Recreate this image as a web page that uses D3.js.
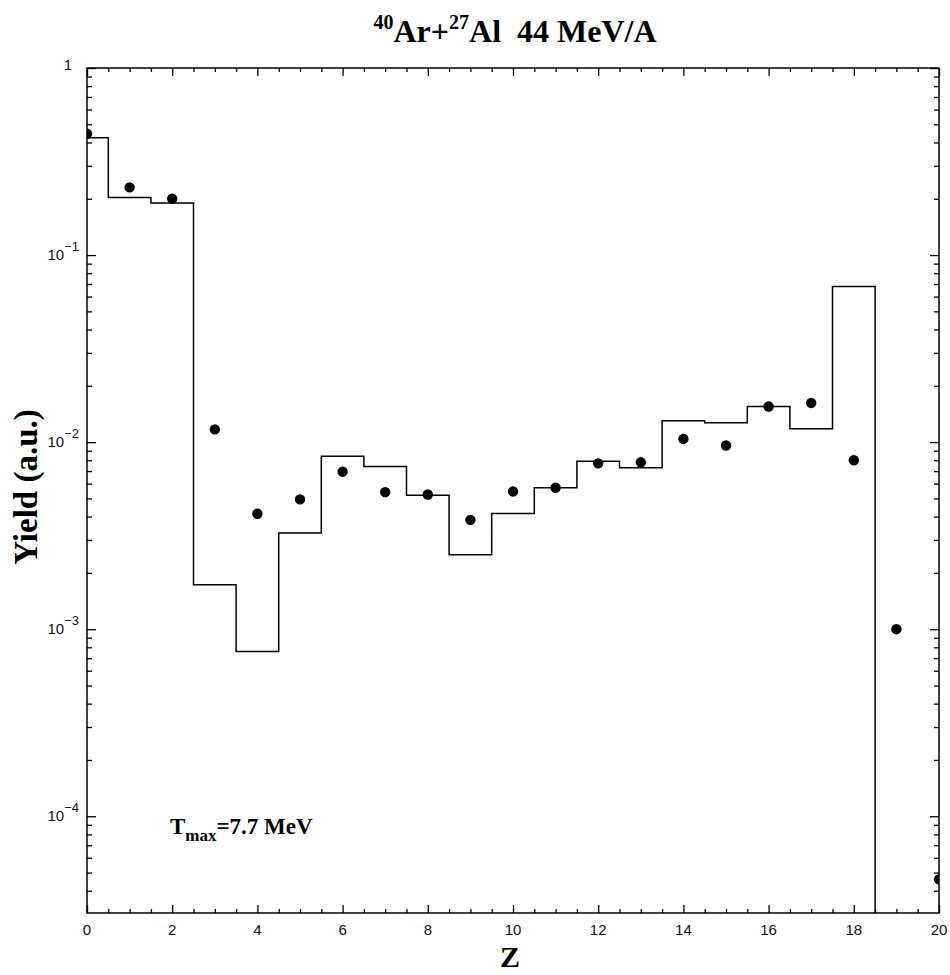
<!DOCTYPE html>
<html><head><meta charset="utf-8">
<script src="https://cdn.jsdelivr.net/npm/d3@7/dist/d3.min.js"></script>
<style>body{margin:0;background:#fff}</style>
</head><body>
<svg id="chart" width="950" height="975"></svg>
<script>
// ---- data ----
const modelZ = [0,1,2,3,4,5,6,7,8,9,10,11,12,13,14,15,16,17,18];
const modelYield = [0.424,0.203,0.19,1.73e-3,7.6e-4,3.27e-3,8.4e-3,7.4e-3,5.2e-3,2.5e-3,4.15e-3,5.7e-3,7.9e-3,7.3e-3,1.3e-2,1.27e-2,1.55e-2,1.18e-2,6.8e-2];
const dataZ = [0,1,2,3,4,5,6,7,8,9,10,11,12,13,14,15,16,17,18,19,20];
const dataYield = [0.445,0.23,0.2,1.17e-2,4.14e-3,4.94e-3,6.95e-3,5.4e-3,5.25e-3,3.84e-3,5.45e-3,5.7e-3,7.7e-3,7.8e-3,1.04e-2,9.6e-3,1.55e-2,1.62e-2,8.0e-3,1.0e-3,4.6e-5];
const xTickValues = [0,2,4,6,8,10,12,14,16,18,20];
const yDecadeValues = [1e-4,1e-3,1e-2,1e-1,1];
const yDecadeBase = ["10","10","10","10","1"];
const yDecadeExp = ["\u22124","\u22123","\u22122","\u22121",""];
const titleParts = ["40","Ar+","27","Al  44 MeV/A"];
const annotationParts = ["T","max","=7.7 MeV"];

// ---- layout ----
const L = 87, R = 939, T = 68, B = 913;
const svg = d3.select("#chart");
const x = d3.scaleLinear().domain([0,20]).range([L,R]);
const y = d3.scaleLog().domain([3.04e-5,1]).range([B,T]);

svg.append("defs").append("clipPath").attr("id","clip")
  .append("rect").attr("x",L).attr("y",T).attr("width",R-L).attr("height",B-T);

const xMinor = d3.range(0,20.01,0.5).filter(v => !xTickValues.includes(v));
const yMinor = [];
[1e-5,1e-4,1e-3,1e-2,1e-1].forEach(d => { for (let k=2;k<=9;k++){ const v=d*k; if (v>=3.04e-5 && v<1) yMinor.push(v);} });

function axisGroup(axis, transform){
  const g = svg.append("g").attr("transform",transform).call(axis);
  g.select(".domain").remove();
  g.selectAll("line").attr("stroke","#000").attr("stroke-width",1.3);
  g.selectAll("text").remove();
  return g;
}
axisGroup(d3.axisBottom(x).tickValues(xTickValues).tickSize(-8), `translate(0,${B})`);
axisGroup(d3.axisBottom(x).tickValues(xMinor).tickSize(-4), `translate(0,${B})`);
axisGroup(d3.axisTop(x).tickValues(xTickValues).tickSize(-8), `translate(0,${T})`);
axisGroup(d3.axisTop(x).tickValues(xMinor).tickSize(-4), `translate(0,${T})`);
axisGroup(d3.axisLeft(y).tickValues(yDecadeValues).tickSize(-9), `translate(${L},0)`);
axisGroup(d3.axisLeft(y).tickValues(yMinor).tickSize(-5), `translate(${L},0)`);
axisGroup(d3.axisRight(y).tickValues(yDecadeValues).tickSize(-9), `translate(${R},0)`);
axisGroup(d3.axisRight(y).tickValues(yMinor).tickSize(-5), `translate(${R},0)`);

svg.append("rect").attr("x",L).attr("y",T).attr("width",R-L).attr("height",B-T)
  .attr("fill","none").attr("stroke","#000").attr("stroke-width",1.5);

// x tick labels
svg.append("g").selectAll("text").data(xTickValues).join("text")
  .attr("x", d => x(d)).attr("y", B+22)
  .attr("text-anchor","middle").attr("font-family","Liberation Sans, Arial, sans-serif")
  .attr("font-size",15).attr("fill","#111").text(d => d);

// y tick labels
const yl = svg.append("g").selectAll("text").data(yDecadeValues).join("text")
  .attr("font-family","Liberation Sans, Arial, sans-serif").attr("font-size",15).attr("fill","#111")
  .attr("text-anchor","end")
  .attr("x", L-8).attr("y", d => y(d)+5);
yl.each(function(d,i){
  const t = d3.select(this);
  if (yDecadeExp[i] === "") { t.attr("x", L-15).attr("y", y(d)+2).text(yDecadeBase[i]); return; }
  t.append("tspan").text(yDecadeBase[i]);
  t.append("tspan").attr("dy",-9).attr("font-size",13).text(yDecadeExp[i]);
});

// histogram (model)
const stepPts = modelZ.map((z,i) => [i===0 ? 0 : z-0.5, modelYield[i]]);
stepPts.push([modelZ[modelZ.length-1]+0.5, y.domain()[0]]);
svg.append("path").attr("clip-path","url(#clip)")
  .attr("d", d3.line().x(d => x(d[0])).y(d => y(d[1])).curve(d3.curveStepAfter)(stepPts))
  .attr("fill","none").attr("stroke","#000").attr("stroke-width",1.5);

// data points
svg.append("g").attr("clip-path","url(#clip)").selectAll("circle").data(dataZ).join("circle")
  .attr("cx", d => x(d)).attr("cy", (d,i) => y(dataYield[i])).attr("r",5.2).attr("fill","#000");

// title
const title = svg.append("text").attr("x",515).attr("y",42).attr("text-anchor","middle")
  .attr("font-family","Liberation Serif, Times New Roman, serif").attr("font-weight","bold")
  .attr("font-size",32).attr("fill","#000").style("white-space","pre");
title.append("tspan").attr("font-size",20).attr("dy",-13).text(titleParts[0]);
title.append("tspan").attr("dy",13).text(titleParts[1]);
title.append("tspan").attr("font-size",20).attr("dy",-13).text(titleParts[2]);
title.append("tspan").attr("dy",13).text(titleParts[3]);

// axis titles
svg.append("text").attr("transform","translate(37,487) rotate(-90)").attr("text-anchor","middle")
  .attr("font-family","Liberation Serif, Times New Roman, serif").attr("font-weight","bold")
  .attr("font-size",33).attr("fill","#000").text("Yield (a.u.)");
svg.append("text").attr("x",510).attr("y",967).attr("text-anchor","middle")
  .attr("font-family","Liberation Serif, Times New Roman, serif").attr("font-weight","bold")
  .attr("font-size",30).attr("fill","#000").text("Z");

// annotation
const ann = svg.append("text").attr("x",170).attr("y",834)
  .attr("font-family","Liberation Serif, Times New Roman, serif").attr("font-weight","bold")
  .attr("font-size",23).attr("fill","#000");
ann.append("tspan").text(annotationParts[0]);
ann.append("tspan").attr("font-size",17).attr("dy",7).text(annotationParts[1]);
ann.append("tspan").attr("dy",-7).text(annotationParts[2]);
</script>
</body></html>
